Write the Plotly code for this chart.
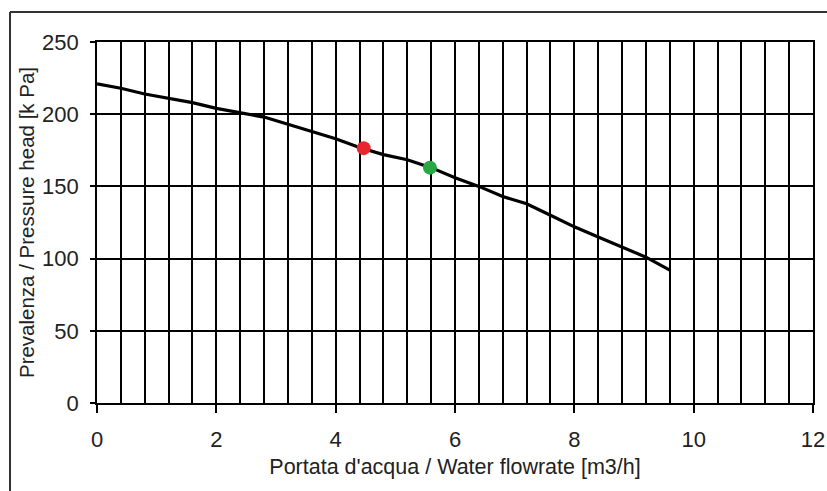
import plotly.graph_objects as go

# Data
flow = [0.0, 0.4, 0.8, 1.2, 1.6, 2.0, 2.4, 2.8, 3.2, 3.6, 4.0, 4.4, 4.8, 5.2,
        5.6, 6.0, 6.4, 6.8, 7.2, 7.6, 8.0, 8.4, 8.8, 9.2, 9.6]
head = [221, 218, 214, 211, 208, 204, 201, 198, 193, 188, 183, 177, 172, 168.5,
        163, 156, 150, 143, 138, 130, 122, 115, 108, 101, 92]
red_point = (4.47, 176.5)
green_point = (5.58, 163)

x_ticks = [0, 2, 4, 6, 8, 10, 12]
y_ticks = [0, 50, 100, 150, 200, 250]

W, H = 827, 491
L, T = 97, 42
R = W - 813
B = H - 403
pw, ph = W - L - R, H - T - B

font = dict(family="Liberation Sans, Arial, sans-serif", size=22, color="#222")

fig = go.Figure()
fig.add_trace(go.Scatter(x=flow, y=head, mode="lines",
                         line=dict(color="black", width=3.2), showlegend=False))
fig.add_trace(go.Scatter(x=[red_point[0]], y=[red_point[1]], mode="markers",
                         marker=dict(color="#e8262f", size=14), showlegend=False))
fig.add_trace(go.Scatter(x=[green_point[0]], y=[green_point[1]], mode="markers",
                         marker=dict(color="#27a845", size=14), showlegend=False))

fig.update_layout(
    width=W, height=H,
    margin=dict(l=L, r=R, t=T, b=B, pad=0, autoexpand=False),
    paper_bgcolor="white", plot_bgcolor="white",
    font=font,
    xaxis=dict(
        range=[0, 12], tickvals=x_ticks, ticktext=[str(v) for v in x_ticks],
        showgrid=True, gridcolor="black", gridwidth=1.6,
        minor=dict(dtick=0.4, showgrid=True, gridcolor="black", gridwidth=1.6),
        ticks="outside", ticklen=8, tickwidth=1.6, tickcolor="black",
        showline=True, linecolor="black", linewidth=1.6, mirror=True,
        zeroline=False, ticklabelstandoff=8, automargin=False,
        title=dict(text="Portata d'acqua / Water flowrate [m3/h]",
                   font=dict(size=21.5), standoff=8),
        fixedrange=True,
    ),
    yaxis=dict(
        range=[0, 250], tickvals=y_ticks, ticktext=[str(v) for v in y_ticks],
        showgrid=True, gridcolor="black", gridwidth=1.6,
        ticks="outside", ticklen=5, tickwidth=1.6, tickcolor="black",
        showline=True, linecolor="black", linewidth=1.6, mirror=True,
        zeroline=False, ticklabelstandoff=7, automargin=False,
        title=dict(text="Prevalenza / Pressure head [k Pa]",
                   font=dict(size=20.5), standoff=2),
        fixedrange=True,
    ),
)

# outer frame (left and top edges, cropped like the reference)
fx = (10 - L) / pw
fy = 1 + (T - 12) / ph
fig.add_shape(type="line", xref="paper", yref="paper",
              x0=fx, x1=fx, y0=-0.5, y1=fy, line=dict(color="#333", width=2))
fig.add_shape(type="line", xref="paper", yref="paper",
              x0=fx, x1=1.2, y0=fy, y1=fy, line=dict(color="#333", width=2))

fig.write_html(
    "out.html",
    config={"displayModeBar": False},
    post_script="document.body.style.margin='0';"
                "document.documentElement.style.overflow='hidden';",
)
